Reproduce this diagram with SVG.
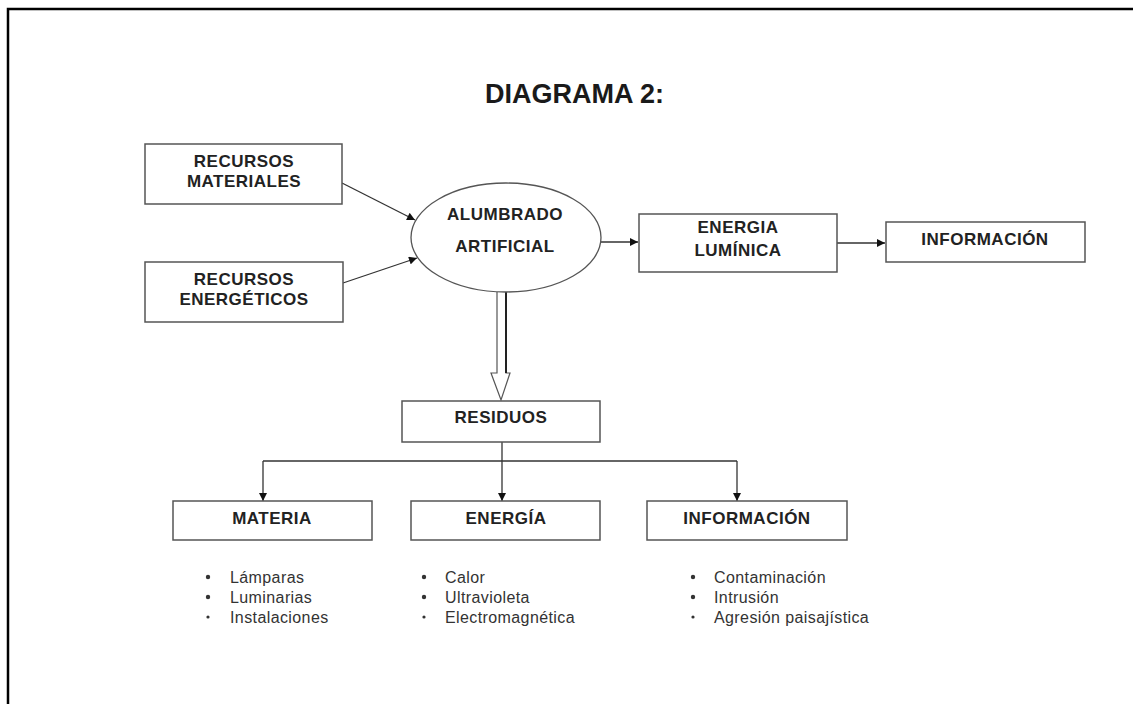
<svg xmlns="http://www.w3.org/2000/svg" width="1133" height="704" viewBox="0 0 1133 704">
<defs>
<style>
.box{fill:#fff;stroke:#555;stroke-width:1.5}
.lbl{font-family:"Liberation Sans",Arial,sans-serif;font-weight:bold;font-size:17px;letter-spacing:0.5px;fill:#222;text-anchor:middle}
.item{font-family:"Liberation Sans",Arial,sans-serif;font-size:16px;letter-spacing:0.4px;fill:#333}
.conn{stroke:#333;stroke-width:1.3;fill:none}
.dot{fill:#333}
</style>
<marker id="ah" viewBox="0 0 10 10" refX="10" refY="5" markerWidth="9" markerHeight="8" markerUnits="userSpaceOnUse" orient="auto">
<path d="M0,0 L10,5 L0,10 z" fill="#111"/>
</marker>
</defs>
<rect width="1133" height="704" fill="#fff"/>
<path d="M8,704 L8,9 L1133,9" fill="none" stroke="#000" stroke-width="2.5"/>
<text x="485" y="103" font-family="'Liberation Sans',Arial,sans-serif" font-weight="bold" font-size="27" fill="#1a1a1a">DIAGRAMA 2:</text>

<g id="connectors">
<line class="conn" x1="342" y1="183" x2="415" y2="220" marker-end="url(#ah)"/>
<line class="conn" x1="343" y1="283" x2="417" y2="258" marker-end="url(#ah)"/>
<line class="conn" x1="601" y1="242" x2="638" y2="242" marker-end="url(#ah)"/>
<line class="conn" x1="837" y1="243" x2="885" y2="243" marker-end="url(#ah)"/>
<path d="M497,292 L497,373 L491,373 L501,400 L510,373 L506,373 L506,292" fill="#fff" stroke="#555" stroke-width="1.2"/>
<line x1="506" y1="292" x2="506" y2="373" stroke="#222" stroke-width="2"/>
<line class="conn" x1="502" y1="442" x2="502" y2="461"/>
<line class="conn" x1="263" y1="461" x2="737" y2="461"/>
<line class="conn" x1="263" y1="461" x2="263" y2="501" marker-end="url(#ah)"/>
<line class="conn" x1="502" y1="461" x2="502" y2="501" marker-end="url(#ah)"/>
<line class="conn" x1="737" y1="461" x2="737" y2="501" marker-end="url(#ah)"/>
</g>

<g id="recursos-materiales">
<rect class="box" x="145" y="144" width="197" height="60"/>
<text class="lbl" x="244" y="167">RECURSOS</text>
<text class="lbl" x="244" y="187">MATERIALES</text>
</g>
<g id="recursos-energeticos">
<rect class="box" x="145" y="262" width="198" height="60"/>
<text class="lbl" x="244" y="285">RECURSOS</text>
<text class="lbl" x="244" y="305">ENERGÉTICOS</text>
</g>
<g id="alumbrado">
<ellipse cx="506" cy="237.5" rx="95" ry="54.5" fill="#fff" stroke="#555" stroke-width="1.3"/>
<text class="lbl" x="505" y="220">ALUMBRADO</text>
<text class="lbl" x="505" y="252">ARTIFICIAL</text>
</g>
<g id="energia-luminica">
<rect class="box" x="639" y="214" width="198" height="58"/>
<text class="lbl" x="738" y="233">ENERGIA</text>
<text class="lbl" x="738" y="256">LUMÍNICA</text>
</g>
<g id="informacion-top">
<rect class="box" x="886" y="222" width="199" height="40"/>
<text class="lbl" x="985" y="245">INFORMACIÓN</text>
</g>
<g id="residuos">
<rect class="box" x="402" y="401" width="198" height="41"/>
<text class="lbl" x="501" y="423">RESIDUOS</text>
</g>
<g id="materia">
<rect class="box" x="173" y="501" width="199" height="39"/>
<text class="lbl" x="272" y="524">MATERIA</text>
<circle class="dot" cx="208" cy="577" r="2.2"/>
<circle class="dot" cx="208" cy="597" r="2.2"/>
<circle class="dot" cx="208" cy="617" r="1.6"/>
<text class="item" x="230" y="583">Lámparas</text>
<text class="item" x="230" y="603">Luminarias</text>
<text class="item" x="230" y="623">Instalaciones</text>
</g>
<g id="energia">
<rect class="box" x="411" y="501" width="189" height="39"/>
<text class="lbl" x="506" y="524">ENERGÍA</text>
<circle class="dot" cx="424" cy="577" r="2.2"/>
<circle class="dot" cx="424" cy="597" r="2.2"/>
<circle class="dot" cx="424" cy="617" r="1.6"/>
<text class="item" x="445" y="583">Calor</text>
<text class="item" x="445" y="603">Ultravioleta</text>
<text class="item" x="445" y="623">Electromagnética</text>
</g>
<g id="informacion">
<rect class="box" x="647" y="501" width="200" height="39"/>
<text class="lbl" x="747" y="524">INFORMACIÓN</text>
<circle class="dot" cx="693" cy="577" r="2.2"/>
<circle class="dot" cx="693" cy="597" r="2.2"/>
<circle class="dot" cx="693" cy="617" r="1.6"/>
<text class="item" x="714" y="583">Contaminación</text>
<text class="item" x="714" y="603">Intrusión</text>
<text class="item" x="714" y="623">Agresión paisajística</text>
</g>
</svg>
